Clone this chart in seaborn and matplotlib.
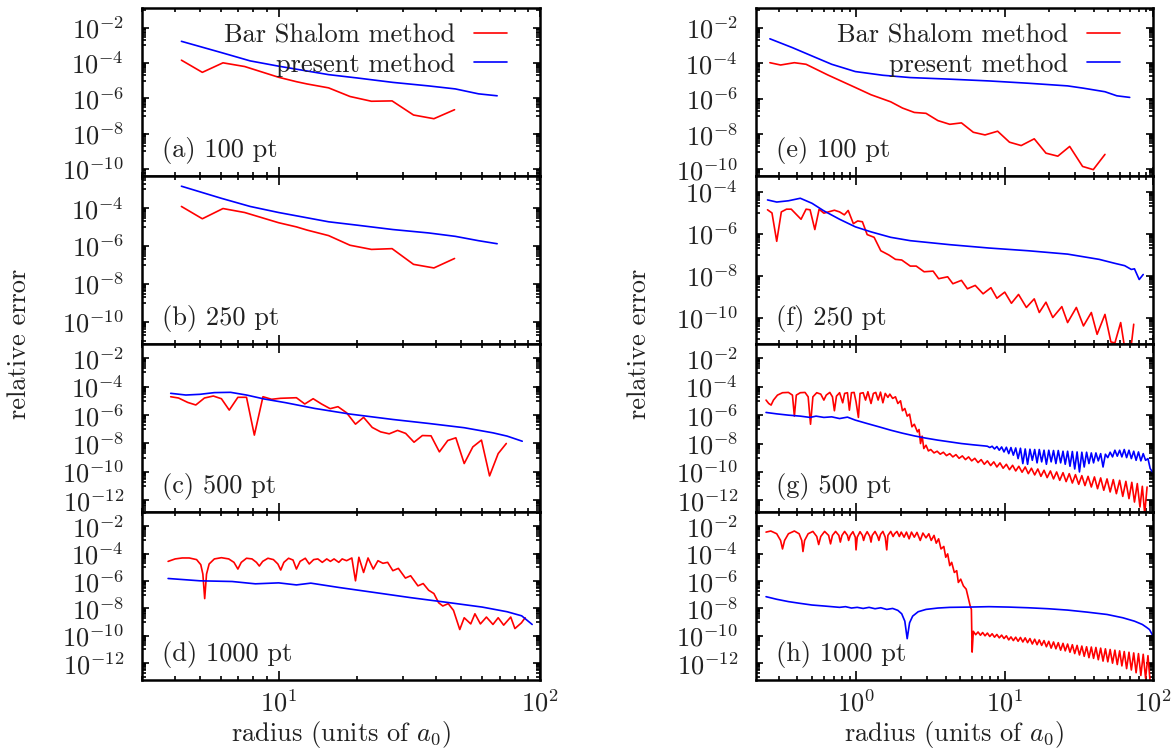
import numpy as np
import matplotlib
matplotlib.use("Agg")
import matplotlib.pyplot as plt
import seaborn as sns
from matplotlib.ticker import FixedLocator, NullFormatter, LogLocator

# ---------------- data (log10 of radius and of relative error) -------------
# (a) 100 pt, left column
a_red_lx = [0.628, 0.708, 0.787, 0.870, 1.000, 1.068, 1.109, 1.191, 1.273, 1.355, 1.434, 1.516, 1.594, 1.673]
a_red_ly = [-3.84, -4.53, -3.99, -4.20, -4.81, -5.06, -5.19, -5.41, -5.90, -6.17, -6.15, -6.95, -7.16, -6.65]
a_blue_lx = [0.628, 0.781, 0.891, 1.000, 1.191, 1.301, 1.437, 1.574, 1.676, 1.765, 1.836]
a_blue_ly = [-2.77, -3.41, -3.88, -4.18, -4.66, -4.85, -5.10, -5.30, -5.47, -5.75, -5.86]
# (b) 250 pt
b_red_lx = [0.628, 0.708, 0.787, 0.870, 1.000, 1.068, 1.109, 1.191, 1.273, 1.355, 1.434, 1.516, 1.594, 1.673]
b_red_ly = [-3.91, -4.56, -4.02, -4.23, -4.77, -4.99, -5.16, -5.45, -5.96, -6.18, -6.14, -6.97, -7.16, -6.66]
b_blue_lx = [0.628, 0.781, 0.891, 1.000, 1.191, 1.301, 1.437, 1.574, 1.676, 1.765, 1.836]
b_blue_ly = [-2.84, -3.48, -3.91, -4.23, -4.72, -4.90, -5.13, -5.31, -5.49, -5.72, -5.88]
# (c) 500 pt
c_red_lx = [0.587, 0.617, 0.652, 0.683, 0.716, 0.750, 0.781, 0.811, 0.844, 0.877, 0.907, 0.940, 0.973,
            1.007, 1.068, 1.100, 1.132, 1.164, 1.197, 1.227, 1.260, 1.294, 1.325, 1.358, 1.390, 1.423,
            1.455, 1.486, 1.518, 1.550, 1.583, 1.615, 1.647, 1.678, 1.710, 1.743, 1.776, 1.807, 1.840, 1.871]
c_red_ly = [-4.71, -4.80, -5.11, -5.29, -4.80, -4.66, -4.85, -5.65, -4.75, -4.75, -7.41, -4.71, -4.89,
            -4.82, -4.78, -5.22, -4.85, -5.22, -5.55, -5.41, -5.84, -6.64, -6.16, -6.87, -7.18, -7.32,
            -7.08, -7.29, -7.91, -7.44, -7.46, -8.59, -7.79, -7.60, -9.41, -8.24, -7.76, -10.28, -8.71, -8.00]
c_blue_lx = [0.587, 0.645, 0.699, 0.754, 0.816, 0.877, 0.945, 1.027, 1.137, 1.273, 1.437, 1.574, 1.710, 1.820, 1.874, 1.932]
c_blue_ly = [-4.47, -4.59, -4.54, -4.42, -4.40, -4.59, -4.87, -5.13, -5.53, -5.93, -6.31, -6.59, -6.89, -7.25, -7.48, -7.84]
# (d) 1000 pt
d_red_lx = [0.577, 0.604, 0.631, 0.658, 0.686, 0.702, 0.710, 0.717, 0.724, 0.734, 0.754, 0.781, 0.809,
            0.829, 0.844, 0.857, 0.877, 0.898, 0.915, 0.926, 0.939, 0.959, 0.980, 0.997, 1.008, 1.020,
            1.038, 1.055, 1.068, 1.082, 1.102, 1.117, 1.134, 1.150, 1.167, 1.184, 1.198, 1.212, 1.230,
            1.243, 1.260, 1.280, 1.294, 1.307, 1.325, 1.342, 1.362, 1.380, 1.399, 1.417, 1.437, 1.458,
            1.485, 1.505, 1.533, 1.553, 1.574, 1.594, 1.612, 1.628, 1.649, 1.669, 1.693, 1.710, 1.735,
            1.751, 1.772, 1.795, 1.820, 1.840, 1.861, 1.888, 1.904, 1.929, 1.943]
d_red_ly = [-4.56, -4.38, -4.31, -4.31, -4.43, -4.80, -5.49, -7.28, -5.49, -4.75, -4.38, -4.29, -4.38,
            -4.63, -5.12, -4.63, -4.33, -4.38, -4.63, -4.90, -4.56, -4.33, -4.43, -4.75, -5.19, -4.63,
            -4.33, -4.46, -5.12, -4.56, -4.33, -4.75, -4.43, -4.38, -4.63, -4.38, -4.56, -4.38, -4.63,
            -4.38, -4.51, -4.31, -5.98, -4.26, -5.37, -4.31, -5.12, -4.51, -4.70, -4.63, -5.24, -5.07,
            -5.78, -5.61, -6.35, -6.18, -6.67, -6.91, -7.58, -7.82, -7.65, -8.14, -9.54, -8.68, -9.13,
            -8.39, -9.13, -8.63, -9.17, -8.68, -9.22, -8.63, -9.47, -9.05, -8.68]
d_blue_lx = [0.577, 0.699, 0.822, 0.911, 1.000, 1.068, 1.123, 1.232, 1.369, 1.505, 1.642, 1.779, 1.874, 1.930, 1.970]
d_blue_ly = [-5.81, -5.98, -6.03, -6.20, -6.13, -6.28, -6.15, -6.47, -6.84, -7.21, -7.55, -7.90, -8.24, -8.54, -9.17]

# (e) 100 pt, right column
e_red_lx = [-0.584, -0.512, -0.419, -0.340, -0.194, -0.008, 0.098, 0.231, 0.310, 0.390, 0.469, 0.549, 0.629,
            0.708, 0.788, 0.867, 0.952, 1.032, 1.111, 1.199, 1.278, 1.358, 1.438, 1.525, 1.597, 1.676]
e_red_ly = [-3.97, -4.10, -3.97, -4.06, -4.66, -5.37, -5.78, -6.18, -6.53, -6.78, -6.83, -7.24, -7.45,
            -7.37, -7.90, -8.05, -7.84, -8.46, -8.65, -8.27, -9.08, -9.25, -8.70, -9.83, -10.01, -9.15]
e_blue_lx = [-0.584, -0.432, -0.300, -0.167, -0.008, 0.178, 0.363, 0.629, 0.894, 1.159, 1.424, 1.531, 1.676, 1.756, 1.843]
e_blue_ly = [-2.62, -3.12, -3.59, -4.06, -4.47, -4.68, -4.81, -4.90, -5.00, -5.13, -5.28, -5.41, -5.61, -5.84, -5.93]
# (f) 250 pt
f_red_lx = [-0.600, -0.570, -0.538, -0.507, -0.472, -0.440, -0.374, -0.340, -0.313, -0.281, -0.252, -0.220,
            -0.149, -0.114, -0.082, -0.056, -0.021, 0.008, 0.040, 0.072, 0.119, 0.164, 0.218, 0.263, 0.305,
            0.363, 0.403, 0.456, 0.517, 0.554, 0.615, 0.650, 0.708, 0.748, 0.801, 0.854, 0.907, 0.947,
            1.000, 1.045, 1.093, 1.146, 1.199, 1.233, 1.278, 1.324, 1.385, 1.424, 1.483, 1.531, 1.584,
            1.623, 1.676, 1.716, 1.743, 1.782, 1.809, 1.854, 1.870]
f_red_ly = [-4.87, -5.02, -6.37, -4.97, -4.84, -4.84, -5.32, -4.84, -4.87, -5.81, -4.84, -5.03,
            -4.89, -4.97, -5.11, -4.90, -5.53, -5.40, -5.44, -6.05, -6.18, -6.82, -7.02, -7.23, -7.26,
            -7.55, -7.55, -7.82, -7.79, -8.15, -8.06, -8.39, -8.23, -8.63, -8.47, -8.87, -8.58, -9.08,
            -8.79, -9.32, -8.90, -9.52, -9.11, -9.76, -9.27, -10.00, -9.48, -10.24, -9.52, -10.40, -9.76,
            -10.80, -9.85, -11.16, -11.21, -10.24, -11.45, -11.29, -10.32]
f_blue_lx = [-0.600, -0.538, -0.459, -0.379, -0.300, -0.220, -0.114, -0.008, 0.098, 0.231, 0.363, 0.629,
             0.894, 1.159, 1.424, 1.637, 1.743, 1.809, 1.854, 1.875, 1.907, 1.934]
f_blue_ly = [-4.40, -4.50, -4.44, -4.32, -4.56, -4.92, -5.32, -5.68, -5.92, -6.18, -6.34, -6.53,
             -6.69, -6.82, -6.98, -7.23, -7.42, -7.53, -7.71, -7.68, -8.19, -7.95]
# (g) 500 pt
g_red_lx = [-0.610, -0.592, -0.576, -0.560, -0.533, -0.499, -0.459, -0.432, -0.419, -0.406, -0.379, -0.347,
            -0.326, -0.310, -0.294, -0.268, -0.241, -0.220, -0.204, -0.180, -0.162, -0.149, -0.135, -0.114,
            -0.093, -0.080, -0.061, -0.048, -0.034, -0.016, -0.003, 0.013, 0.024, 0.045, 0.061, 0.077,
            0.098, 0.114, 0.130, 0.146, 0.162, 0.178, 0.194, 0.212, 0.225, 0.244, 0.263, 0.279, 0.297,
            0.310, 0.326, 0.342, 0.358, 0.374, 0.390, 0.411, 0.422, 0.432, 0.443, 0.454, 0.469, 0.485,
            0.501, 0.523, 0.544, 0.565, 0.586, 0.607, 0.629, 0.650, 0.671, 0.692, 0.714, 0.735, 0.756,
            0.777, 0.798, 0.820, 0.841, 0.862, 0.883, 0.905, 0.926, 0.947, 0.968, 0.989, 1.011, 1.032,
            1.053, 1.074, 1.095, 1.117, 1.138, 1.159, 1.180, 1.202, 1.223, 1.244, 1.265, 1.286, 1.308,
            1.329, 1.350, 1.371, 1.393, 1.414, 1.435, 1.456, 1.477, 1.499, 1.520, 1.541, 1.562, 1.584,
            1.605, 1.626, 1.647, 1.668, 1.690, 1.711, 1.732, 1.753, 1.775, 1.796, 1.817, 1.838, 1.857,
            1.875, 1.894, 1.912, 1.928, 1.944, 1.960]
g_red_ly = [-4.94, -5.18, -5.29, -4.94, -4.59, -4.42, -4.40, -4.59, -6.07, -4.59, -4.42, -4.40,
            -4.71, -6.64, -4.71, -4.42, -4.52, -4.94, -4.59, -4.40, -4.71, -5.69, -4.66, -4.42,
            -5.13, -4.47, -4.42, -5.65, -4.42, -4.40, -5.06, -6.16, -4.47, -4.42, -4.94, -4.35,
            -5.18, -4.47, -4.40, -4.94, -4.38, -5.13, -4.47, -4.75, -4.52, -4.82, -4.71, -5.18, -4.99,
            -5.69, -5.53, -6.07, -5.93, -6.82, -6.64, -7.18, -7.01, -8.00, -7.48, -8.35, -8.12, -8.52,
            -8.42, -8.66, -8.54, -8.75, -8.61, -8.85, -8.71, -8.94, -8.78, -9.04, -8.87, -9.13, -8.94,
            -9.22, -9.04, -9.34, -9.13, -9.46, -9.22, -9.55, -9.29, -9.65, -9.36, -9.74, -9.46, -9.84,
            -9.53, -9.93, -9.60, -10.02, -9.65, -10.12, -9.74, -10.21, -9.79, -10.31, -9.88, -10.40, -9.93,
            -10.49, -10.00, -10.59, -10.05, -10.68, -10.12, -10.78, -10.19, -10.87, -10.26, -10.96, -10.31, -11.06,
            -10.35, -11.18, -10.42, -11.29, -10.49, -11.41, -10.54, -11.53, -10.59, -11.72, -10.66, -11.88, -10.73,
            -12.12, -10.82, -12.47, -11.01, -12.94, -11.06]
g_blue_lx = [-0.610, -0.538, -0.459, -0.379, -0.313, -0.273, -0.220, -0.167, -0.114, -0.061, -0.008, 0.072,
             0.151, 0.231, 0.310, 0.390, 0.469, 0.549, 0.629, 0.708, 0.788, 0.867,
             0.883, 0.899, 0.915, 0.931, 0.947, 0.963, 0.979, 0.995, 1.011, 1.027, 1.042, 1.058, 1.074,
             1.090, 1.106, 1.122, 1.138, 1.154, 1.170, 1.186, 1.202, 1.218, 1.233, 1.249, 1.265, 1.281,
             1.297, 1.313, 1.329, 1.345, 1.361, 1.377, 1.393, 1.408, 1.424, 1.440, 1.456, 1.472, 1.488,
             1.504, 1.520, 1.536, 1.552, 1.568, 1.584, 1.599, 1.615, 1.631, 1.647, 1.663, 1.679, 1.695,
             1.711, 1.727, 1.743, 1.759, 1.775, 1.790, 1.806, 1.822, 1.838, 1.854, 1.870, 1.886, 1.902,
             1.918, 1.934, 1.950, 1.966, 1.981, 1.997]
g_blue_ly = [-5.81, -5.91, -6.00, -6.07, -6.16, -6.07, -6.16, -6.12, -6.24, -6.14, -6.35, -6.59,
             -6.82, -7.06, -7.27, -7.46, -7.62, -7.76, -7.88, -8.00, -8.09, -8.17,
             -8.19, -8.28, -8.19, -8.38, -8.21, -8.47, -8.24, -8.59, -8.26, -8.71, -8.28, -8.82, -8.31,
             -9.06, -8.33, -9.41, -8.38, -9.46, -8.40, -9.18, -8.42, -9.36, -8.42, -9.29, -8.47, -9.46,
             -8.47, -9.29, -8.49, -9.41, -8.49, -9.36, -8.54, -9.46, -8.54, -9.60, -8.56, -9.79, -8.59,
             -10.00, -8.61, -9.65, -8.61, -9.41, -8.66, -9.36, -8.66, -9.22, -8.71, -9.65, -8.75, -8.99,
             -8.61, -8.94, -8.47, -8.89, -8.47, -8.94, -8.42, -8.99, -8.47, -9.06, -8.54, -9.18, -8.59,
             -9.22, -8.71, -9.18, -9.06, -9.76, -10.00]
# (h) 1000 pt
h_red_lx = [-0.610, -0.578, -0.538, -0.512, -0.499, -0.485, -0.459, -0.419, -0.387, -0.369, -0.361, -0.350,
            -0.326, -0.294, -0.268, -0.255, -0.241, -0.215, -0.188, -0.175, -0.162, -0.141, -0.119, -0.109,
            -0.098, -0.080, -0.061, -0.053, -0.042, -0.024, -0.008, -0.003, 0.005, 0.024, 0.040, 0.048,
            0.058, 0.072, 0.090, 0.098, 0.106, 0.125, 0.143, 0.151, 0.162, 0.178, 0.194, 0.204, 0.212,
            0.231, 0.247, 0.257, 0.273, 0.289, 0.302, 0.321, 0.337, 0.355, 0.371, 0.390, 0.408, 0.430,
            0.448, 0.469, 0.488, 0.504, 0.523, 0.538, 0.554, 0.570, 0.589, 0.602, 0.615, 0.629, 0.642,
            0.660, 0.676, 0.687, 0.703, 0.721, 0.740, 0.756, 0.767, 0.775, 0.780,
            0.788, 0.804, 0.820, 0.836, 0.851, 0.867, 0.883, 0.899, 0.915, 0.931, 0.947, 0.963, 0.979,
            0.995, 1.011, 1.027, 1.042, 1.058, 1.074, 1.090, 1.106, 1.122, 1.138, 1.154, 1.170, 1.186,
            1.202, 1.218, 1.233, 1.249, 1.265, 1.281, 1.297, 1.313, 1.329, 1.345, 1.361, 1.377, 1.393,
            1.408, 1.424, 1.440, 1.456, 1.472, 1.488, 1.504, 1.520, 1.536, 1.552, 1.568, 1.584, 1.599,
            1.615, 1.631, 1.647, 1.663, 1.679, 1.695, 1.711, 1.727, 1.743, 1.759, 1.775, 1.790, 1.806,
            1.822, 1.838, 1.854, 1.870, 1.886, 1.902, 1.918, 1.934, 1.950, 1.966, 1.981]
h_red_ly = [-2.42, -2.34, -2.54, -3.03, -3.65, -3.03, -2.54, -2.34, -2.54, -3.03, -3.84, -3.03,
            -2.54, -2.37, -2.74, -3.33, -2.74, -2.37, -2.66, -3.28, -2.66, -2.37, -2.66, -3.15,
            -2.66, -2.37, -2.66, -3.03, -2.66, -2.39, -2.79, -3.72, -2.79, -2.39, -2.66, -3.03,
            -2.66, -2.39, -2.74, -3.15, -2.66, -2.37, -2.74, -3.03, -2.59, -2.37, -2.79, -3.72, -2.66,
            -2.37, -2.74, -2.54, -2.37, -2.74, -2.42, -2.79, -2.42, -2.91, -2.42, -2.79, -2.44, -3.03,
            -2.49, -2.84, -2.54, -3.03, -2.66, -3.23, -2.91, -3.65, -3.47, -4.26, -4.01, -4.87, -4.63,
            -5.37, -5.24, -6.10, -5.86, -6.35, -6.59, -7.33, -7.82, -8.07, -11.19,
            -9.67, -9.92, -9.72, -9.96, -9.76, -10.00, -9.80, -10.05, -9.85, -10.10, -9.90, -10.15, -9.95,
            -10.20, -10.00, -10.30, -10.08, -10.35, -10.10, -10.40, -10.12, -10.45, -10.15, -10.50, -10.20, -10.60,
            -10.25, -10.65, -10.30, -10.70, -10.35, -10.80, -10.40, -10.90, -10.45, -10.95, -10.50, -11.05, -10.55,
            -11.10, -10.60, -11.20, -10.65, -11.30, -10.70, -11.40, -10.75, -11.50, -10.80, -11.60, -10.82, -11.65,
            -10.85, -11.75, -10.90, -11.85, -10.95, -11.90, -11.00, -12.00, -11.05, -12.10, -11.10, -12.20, -11.15,
            -12.40, -11.20, -12.50, -11.25, -12.70, -11.30, -12.90, -11.35, -13.10, -11.45, -13.40]
h_blue_lx = [-0.610, -0.538, -0.459, -0.379, -0.300, -0.220, -0.167, -0.114, -0.074, -0.034, 0.005, 0.045,
             0.085, 0.125, 0.164, 0.204, 0.244, 0.279, 0.305, 0.326, 0.342, 0.358, 0.379, 0.416, 0.469,
             0.549, 0.629, 0.761, 0.894, 1.027, 1.159, 1.292, 1.424, 1.557, 1.690, 1.796, 1.875, 1.928,
             1.955, 1.976, 1.995]
h_blue_ly = [-7.14, -7.33, -7.50, -7.63, -7.75, -7.82, -7.87, -7.92, -7.87, -7.97, -7.92, -8.00,
             -7.92, -8.02, -7.95, -8.07, -8.00, -8.14, -8.39, -8.93, -10.21, -9.05, -8.56, -8.24, -8.07,
             -7.97, -7.92, -7.90, -7.87, -7.90, -7.95, -8.02, -8.12, -8.27, -8.44, -8.68, -8.93, -9.17,
             -9.37, -9.54, -9.91]

panel_labels = ["(a) 100 pt", "(b) 250 pt", "(c) 500 pt", "(d) 1000 pt",
                "(e) 100 pt", "(f) 250 pt", "(g) 500 pt", "(h) 1000 pt"]
series_names = ["Bar Shalom method", "present method"]
x_label = r"radius (units of $a_0$)"
y_label = "relative error"

series = [
    (a_red_lx, a_red_ly, a_blue_lx, a_blue_ly),
    (b_red_lx, b_red_ly, b_blue_lx, b_blue_ly),
    (c_red_lx, c_red_ly, c_blue_lx, c_blue_ly),
    (d_red_lx, d_red_ly, d_blue_lx, d_blue_ly),
    (e_red_lx, e_red_ly, e_blue_lx, e_blue_ly),
    (f_red_lx, f_red_ly, f_blue_lx, f_blue_ly),
    (g_red_lx, g_red_ly, g_blue_lx, g_blue_ly),
    (h_red_lx, h_red_ly, h_blue_lx, h_blue_ly),
]
ylims_exp = [(-10.41, -0.88), (-11.18, -2.30), (-12.82, -1.00), (-13.23, -0.95),
             (-10.37, -0.88), (-11.26, -3.26), (-12.82, -0.99), (-13.23, -0.95)]
xlims = [(3.0, 100.0), (0.21, 100.0)]

# ---------------- style ----------------
sns.set_theme(style="ticks")
plt.rcParams.update({
    "font.family": "serif",
    "font.serif": ["cmr10", "DejaVu Serif"],
    "mathtext.fontset": "cm",
    "axes.formatter.use_mathtext": True,
    "axes.linewidth": 1.8,
    "axes.edgecolor": "black",
    "xtick.color": "black", "ytick.color": "black",
    "text.color": "#222222",
})
FS = 19      # texts
TFS = 19     # tick labels
RED, BLUE = "#ff0000", "#0000ff"

W, H = 1172, 750
fig = plt.figure(figsize=(W / 100, H / 100), dpi=100)
cols = [(142, 398), (756, 397)]
top0, ph = 8, 168

y_major = [10.0 ** e for e in range(-14, 1, 2)]
y_minor = [j * 10.0 ** e for e in range(-15, 0, 2) for j in range(1, 10)]

for i, (rlx, rly, blx, bly) in enumerate(series):
    col, row = divmod(i, 4)
    x0, w = cols[col]
    rect = [x0 / W, 1 - (top0 + ph * (row + 1)) / H, w / W, ph / H]
    ax = fig.add_axes(rect)
    ax.set_xscale("log")
    ax.set_yscale("log")
    sns.lineplot(x=10.0 ** np.array(rlx), y=10.0 ** np.array(rly), ax=ax, color=RED,
                 linewidth=1.2, estimator=None, sort=False, label=series_names[0])
    sns.lineplot(x=10.0 ** np.array(blx), y=10.0 ** np.array(bly), ax=ax, color=BLUE,
                 linewidth=1.2, estimator=None, sort=False, label=series_names[1])
    ax.set_xlim(*xlims[col])
    lo, hi = ylims_exp[i]
    ax.set_ylim(10.0 ** lo, 10.0 ** hi)
    ax.yaxis.set_major_locator(FixedLocator(y_major))
    ax.yaxis.set_minor_locator(FixedLocator(y_minor))
    ax.yaxis.set_minor_formatter(NullFormatter())
    ax.xaxis.set_major_locator(LogLocator(base=10, numticks=10))
    ax.xaxis.set_minor_locator(LogLocator(base=10, subs=np.arange(2, 10), numticks=20))
    ax.xaxis.set_minor_formatter(NullFormatter())
    ax.tick_params(which="both", direction="in", top=True, right=True, width=1.2,
                   labelsize=TFS, colors="black", labelcolor="#222222")
    ax.tick_params(axis="x", which="major", length=6.5, pad=7)
    ax.tick_params(axis="y", which="major", length=5.0, pad=13)
    ax.tick_params(which="minor", length=3.0)
    if row != 3:
        ax.tick_params(axis="x", labelbottom=False)
    ax.set_xlabel("")
    ax.set_ylabel("")
    for s in ax.spines.values():
        s.set_linewidth(1.8)
        s.set_color("black")
    ax.text(0.05, 0.15, panel_labels[i], transform=ax.transAxes, fontsize=FS,
            ha="left", va="center", color="#222222")
    leg = ax.get_legend()
    if leg is not None:
        leg.remove()
    if row == 0:
        h, l = ax.get_legend_handles_labels()
        ax.legend(h, l, loc="upper right", bbox_to_anchor=(0.917, 0.905), frameon=False,
                  markerfirst=False, fontsize=FS, borderpad=0, borderaxespad=0,
                  handlelength=1.25, handletextpad=0.72, labelspacing=0.2,
                  labelcolor="#222222")

for col in range(2):
    x0, w = cols[col]
    fig.text((x0 + w / 2) / W, 1 - 735 / H, x_label, ha="center", va="center",
             fontsize=FS, color="#222222")
fig.text(19 / W, 1 - 344 / H, y_label, rotation=90, ha="center", va="center",
         fontsize=FS, color="#222222")
fig.text(639 / W, 1 - 344 / H, y_label, rotation=90, ha="center", va="center",
         fontsize=FS, color="#222222")

fig.savefig("out.png", dpi=100)
